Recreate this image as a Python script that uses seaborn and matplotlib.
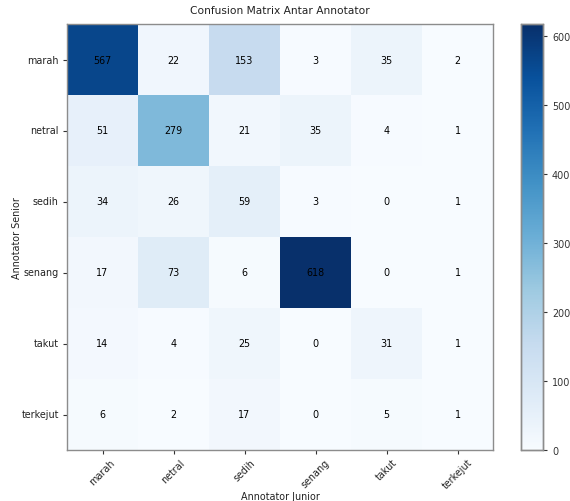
import numpy as np
import pandas as pd
import matplotlib
matplotlib.use("Agg")
import matplotlib.pyplot as plt
import seaborn as sns

labels = ["marah", "netral", "sedih", "senang", "takut", "terkejut"]
row_marah = [567, 22, 153, 3, 35, 2]
row_netral = [51, 279, 21, 35, 4, 1]
row_sedih = [34, 26, 59, 3, 0, 1]
row_senang = [17, 73, 6, 618, 0, 1]
row_takut = [14, 4, 25, 0, 31, 1]
row_terkejut = [6, 2, 17, 0, 5, 1]

cm = pd.DataFrame([row_marah, row_netral, row_sedih, row_senang, row_takut, row_terkejut],
                  index=labels, columns=labels)

plt.rcParams['font.family'] = ['DejaVu Sans']
fs = 6.9
fig = plt.figure(figsize=(5.70, 5.02), dpi=100)
ax = fig.add_axes([67/570, 51/502, 426/570, 426/502])
cax = fig.add_axes([521/570, 51/502, 22/570, 426/502])

sns.heatmap(cm, cmap="Blues", annot=True, fmt="d", vmin=0, vmax=618,
            annot_kws={"color": "black", "fontsize": fs}, cbar=True, cbar_ax=cax,
            ax=ax, square=False, linewidths=0)

for s in ax.spines.values():
    s.set_visible(True)
    s.set_color("#8c8c8c")
    s.set_linewidth(1.0)
ax.tick_params(axis="both", labelsize=fs, colors="#333333", length=3, width=0.8, pad=3)
ax.tick_params(axis="x", pad=2)
ax.set_xticklabels(labels, rotation=45, ha="center", color="#222222")
ax.set_yticklabels(labels, rotation=0, color="#222222")
ax.set_xlabel("Annotator Junior", fontsize=fs, color="#222222")
ax.set_ylabel("Annotator Senior", fontsize=fs, color="#222222")
ax.xaxis.set_label_coords(0.5, -0.097)
ax.yaxis.set_label_coords(-0.105, 0.5)
ax.set_title("Confusion Matrix Antar Annotator", fontsize=7.7, color="#222222", pad=8)

cax.tick_params(labelsize=fs, colors="#333333", length=3, width=0.8)
cax.set_yticks([0, 100, 200, 300, 400, 500, 600])
for s in cax.spines.values():
    s.set_visible(True)
    s.set_color("#8c8c8c")
    s.set_linewidth(1.0)

fig.savefig("out.png", dpi=100)
